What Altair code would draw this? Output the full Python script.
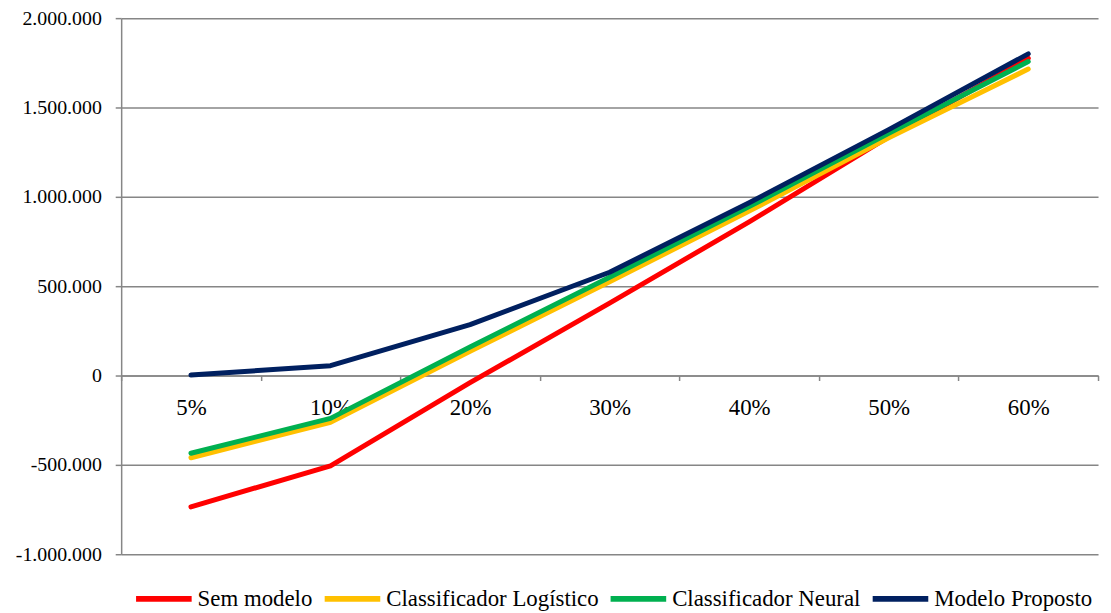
import altair as alt
import pandas as pd

categories = ["5%", "10%", "20%", "30%", "40%", "50%", "60%"]
series_names = ["Sem modelo", "Classificador Logístico", "Classificador Neural", "Modelo Proposto"]
sem_modelo = [-735000, -505000, -40000, 405000, 860000, 1335000, 1775000]
logistico = [-460000, -262000, 135000, 525000, 920000, 1330000, 1715000]
neural = [-435000, -240000, 160000, 550000, 945000, 1355000, 1757000]
proposto = [3000, 55000, 285000, 578000, 967000, 1376000, 1800000]
colors = ["#FF0000", "#FFC000", "#00B050", "#002060"]
y_ticks = [-1000000, -500000, 0, 500000, 1000000, 1500000, 2000000]

rows = []
for name, vals in zip(series_names, [sem_modelo, logistico, neural, proposto]):
    for i, (c, v) in enumerate(zip(categories, vals)):
        rows.append({"serie": name, "cat": c, "valor": v, "ord": i})
df = pd.DataFrame(rows)

FONT = "Times New Roman, Liberation Serif, DejaVu Serif, serif"

chart = alt.Chart(df).mark_line(strokeWidth=5, strokeCap="round", strokeJoin="round").encode(
    x=alt.X("cat:N", sort=categories, bandPosition=0.5,
            scale=alt.Scale(type="band", paddingInner=0, paddingOuter=0),
            axis=alt.Axis(title=None, offset=-180, tickBand="extent", labelAngle=0,
                          domainColor="#868686", domainWidth=1.5, tickColor="#868686",
                          tickWidth=1.5, tickSize=5, labelFont=FONT, labelFontSize=23,
                          labelColor="black", labelPadding=16, grid=False)),
    y=alt.Y("valor:Q", scale=alt.Scale(domain=[-1000000, 2000000], nice=False),
            axis=alt.Axis(title=None, values=y_ticks, format=",.0f", grid=True,
                          gridColor="#868686", gridWidth=1.5, domainColor="#868686",
                          domainWidth=1.5, tickColor="#868686", tickWidth=1.5, tickSize=6,
                          labelFont=FONT, labelFontSize=20, labelColor="black",
                          labelPadding=14)),
    color=alt.Color("serie:N", sort=series_names,
                    scale=alt.Scale(domain=series_names, range=colors),
                    legend=alt.Legend(title=None, orient="none", direction="horizontal",
                                      legendX=12, legendY=554, symbolType="stroke",
                                      symbolStrokeWidth=6, symbolSize=3136,
                                      labelFont=FONT, labelFontSize=23, labelColor="black",
                                      labelLimit=0, columnPadding=0, labelOffset=3,
                                      padding=0)),
    order=alt.Order("ord:Q"),
    detail="serie:N",
).properties(
    width=984, height=540,
    autosize=alt.AutoSizeParams(type="none"),
    padding={"left": 114, "top": 8, "right": 5, "bottom": 57},
).configure(
    font=FONT,
    locale={"number": {"decimal": ",", "thousands": ".", "grouping": [3],
                       "currency": ["R$", ""], "minus": "-"}}
).configure_view(stroke=None).configure_axis(labelFont=FONT).configure_legend(labelFont=FONT)

chart.save("out.html", embed_options={"renderer": "svg", "actions": False})
